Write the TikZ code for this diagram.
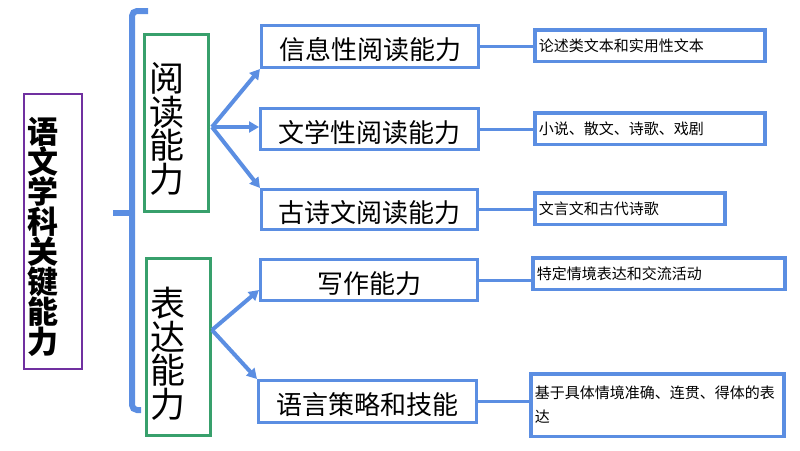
\documentclass[tikz,border=0pt]{standalone}
\usepackage{fontspec}
\setmainfont{Noto Sans CJK SC}
\usetikzlibrary{arrows.meta,calc}
\definecolor{bblue}{RGB}{91,142,226}
\definecolor{bgreen}{RGB}{56,160,108}
\definecolor{bpurple}{RGB}{112,48,160}
\begin{document}
\begin{tikzpicture}[x=1pt,y=-1pt,
  titlebox/.style={draw=bpurple, line width=2pt, rectangle, anchor=north west, inner sep=0pt},
  catbox/.style={draw=bgreen, line width=3pt, rectangle, anchor=north west, inner sep=0pt},
  midbox/.style={draw=bblue, line width=3pt, rectangle, anchor=north west, inner sep=0pt,
     text height=26pt, text depth=0pt, font=\fontsize{26}{28}\selectfont},
  descbox/.style={draw=bblue, line width=3.5pt, rectangle, anchor=north west, inner xsep=4pt, inner ysep=0pt,
     align=left, font=\fontsize{15}{24}\selectfont},
  vtext/.style={align=center, inner sep=0pt},
  brace/.style={draw=bblue, line width=6pt, rounded corners=5pt},
  arr/.style={draw=bblue, line width=4pt, -{Triangle[length=10pt,width=11pt]}},
  conn/.style={draw=bblue, line width=3pt}
]
\useasboundingbox (0,0) rectangle (800,450);

% title
\node[titlebox, minimum width=58pt, minimum height=275pt] (t) at (23,93) {};
\node[vtext, font=\fontsize{31}{30}\selectfont\bfseries] (tt) at (43,237) {语\\文\\学\\科\\关\\键\\能\\力};

% bracket
\draw[brace] (148,11) -| (132,410) -- (141,410);
\draw[brace, rounded corners=0pt] (113,213) -- (132,213);

% categories
\node[catbox, minimum width=64pt, minimum height=177pt] (g1) at (143,33) {};
\node[vtext, font=\fontsize{35}{33.5}\selectfont] (g1t) at (167,129) {阅\\读\\能\\力};
\node[catbox, minimum width=64pt, minimum height=177pt] (g2) at (145,257) {};
\node[vtext, font=\fontsize{35}{33.5}\selectfont] (g2t) at (168,354) {表\\达\\能\\力};

% middle boxes
\node[midbox, minimum width=217pt, minimum height=42pt] (m1) at (260,24) {信息性阅读能力};
\node[midbox, minimum width=218pt, minimum height=41pt] (m2) at (259,107) {文学性阅读能力};
\node[midbox, minimum width=216pt, minimum height=40pt] (m3) at (260,188) {古诗文阅读能力};
\node[midbox, minimum width=217pt, minimum height=41pt] (m4) at (259,258) {写作能力};
\node[midbox, minimum width=218pt, minimum height=42pt] (m5) at (257,379) {语言策略和技能};

% description boxes
\node[descbox, text width=222pt, minimum height=31.5pt] (r1) at (533,28) {论述类文本和实用性文本};
\node[descbox, text width=222pt, minimum height=31.5pt] (r2) at (533,111) {小说、散文、诗歌、戏剧};
\node[descbox, text width=182pt, minimum height=31.5pt] (r3) at (533,191) {文言文和古代诗歌};
\node[descbox, text width=244pt, minimum height=31.5pt] (r4) at (531,256) {特定情境表达和交流活动};
\node[descbox, text width=245pt, minimum height=62.5pt] (r5) at (529,372) {基于具体情境准确、连贯、得体的表\\达\\[-6pt]};

% arrows
\coordinate (s1) at (212,127);
\coordinate (s2) at (212,330);
\draw[arr] (s1) -- (m1.south west);
\draw[arr] (s1) -- (m2.west |- s1);
\draw[arr] (s1) -- (m3.north west);
\draw[arr] (s2) -- ($(m4.south west)+(0,-12)$);
\draw[arr] (s2) -- (m5.north west);

% connectors
\draw[conn] (m1.east) -- (m1.east -| r1.west);
\draw[conn] (m2.east) -- (m2.east -| r2.west);
\draw[conn] (m3.east) -- (m3.east -| r3.west);
\draw[conn] (m4.east) -- (m4.east -| r4.west);
\draw[conn] (m5.east) -- (m5.east -| r5.west);
\end{tikzpicture}
\end{document}
